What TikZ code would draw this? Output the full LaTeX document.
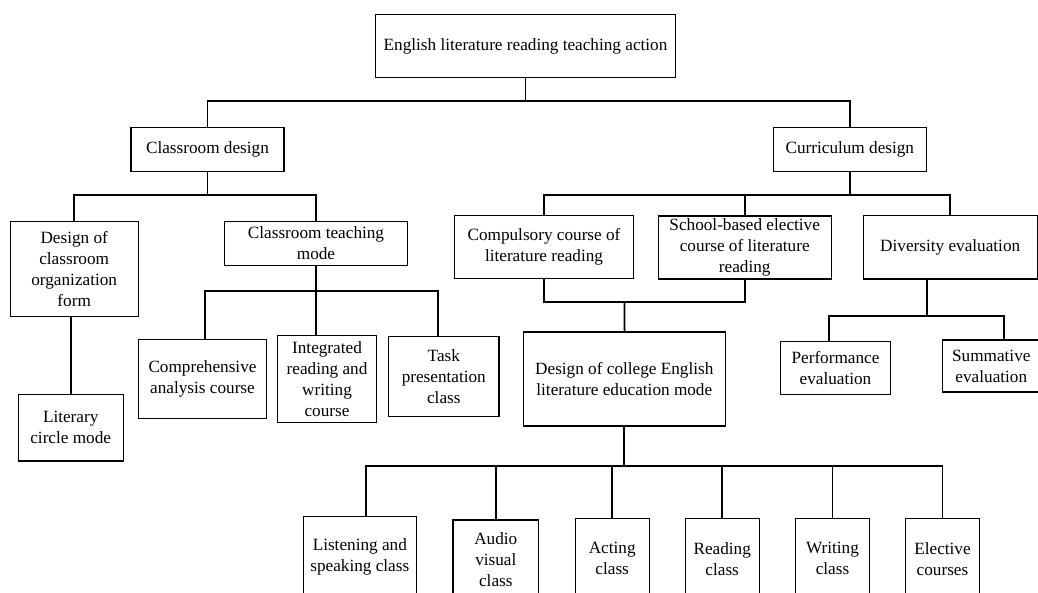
\documentclass[tikz,border=0pt]{standalone}
\usepackage{fontspec}
\setmainfont{Liberation Serif}
\tikzset{box/.style={draw, line width=1.1pt, align=center, inner sep=0pt, font=\fontsize{17.2}{21}\selectfont}}
\tikzset{leaf/.style={box, minimum width=73.7pt, minimum height=80pt}}
\tikzset{link/.style={line width=1.8pt}}

\begin{document}
\begin{tikzpicture}[x=1pt,y=-1pt]
\useasboundingbox (0,0) rectangle (1038,592);

\node[box, minimum width=299.6pt, minimum height=62.6pt] (root) at (525.5,46) {English literature reading teaching action};

\node[box, minimum width=153pt, minimum height=44.4pt] (cls) at (207.5,149.5) {Classroom design};
\node[box, minimum width=153pt, minimum height=44pt] (cur) at (849.8,149.7) {Curriculum design};

\node[box, minimum width=128.3pt, minimum height=95pt] (org) at (74.2,268.8) {Design of\\classroom\\organization\\form};
\node[box, minimum width=183.4pt, minimum height=44.4pt] (mode) at (316,243.5) {Classroom teaching\\mode};
\node[box, minimum width=104.7pt, minimum height=66.3pt] (lit) at (70.7,427.8) {Literary\\circle mode};
\node[box, minimum width=128.4pt, minimum height=78.3pt] (comp) at (202.5,378.9) {Comprehensive\\analysis course};
\node[box, minimum width=99.4pt, minimum height=87pt] (integ) at (327,378.8) {Integrated\\reading and\\writing\\course};
\node[box, minimum width=110.3pt, minimum height=79.6pt] (task) at (443.8,376.5) {Task\\presentation\\class};

\node[box, minimum width=179.4pt, minimum height=62.6pt] (compul) at (544,247) {Compulsory course of\\literature reading};
\node[box, minimum width=173.3pt, minimum height=63pt] (school) at (744.7,247.5) {School-based elective\\course of literature\\reading};
\node[box, minimum width=174.3pt, minimum height=63.3pt] (div) at (950.2,247.3) {Diversity evaluation};
\node[box, minimum width=202pt, minimum height=94pt] (college) at (624.3,379) {Design of college English\\literature education mode};
\node[box, minimum width=110.4pt, minimum height=53.4pt] (perf) at (835.5,368) {Performance\\evaluation};
\node[box, minimum width=97pt, minimum height=52pt] (sum) at (991.3,366) {Summative\\evaluation};

\node[leaf, minimum width=113pt] (listen) at (359.8,556.7) {Listening and\\speaking class};
\node[leaf, minimum width=85.7pt] (audio) at (495.8,560) {Audio\\visual\\class};
\node[leaf] (act) at (612.2,558.7) {Acting\\class};
\node[leaf] (read) at (722.2,558.7) {Reading\\class};
\node[leaf] (write) at (832.5,558.7) {Writing\\class};
\node[leaf] (elect) at (942.5,558.7) {Elective\\courses};

% junctions
\coordinate (b0) at (525.5,100.7);
\coordinate (b1) at (207.5,195);
\coordinate (b2) at (316,291);
\coordinate (b2l) at (205.3,291);
\coordinate (b2r) at (437.7,291);
\coordinate (b3) at (849.8,195);
\coordinate (b4) at (624.5,302.3);
\coordinate (b5) at (624.3,466.3);
\coordinate (b5l) at (366,466.3);
\coordinate (b6) at (927.3,316);
\coordinate (b6l) at (829.3,316);
\coordinate (b6r) at (1003.7,316);

\draw[link] (root) -- (b0) -| (cls);
\draw[link] (b0) -| (cur);

\draw[link] (cls) -- (b1) -| (org);
\draw[link] (b1) -| (mode);
\draw[link] (lit) -- (lit |- org.south);
\draw[link] (mode) -- (b2);
\draw[link] (b2l |- comp.north) |- (b2r) -- (b2r |- task.north);
\draw[link] (b2) -- (b2 |- integ.north);

\draw[link] (cur) -- (b3) -| (compul);
\draw[link] (b3) -| (school);
\draw[link] (b3) -| (div);
\draw[link] (compul) |- (b4) -| (school);
\draw[link] (b4) -- (college);

\draw[link] (college) -- (b5);
\draw[link] (b5l |- listen.north) -- (b5l) -| (elect);
\draw[link] (b5) -| (audio);
\draw[link] (b5) -| (act);
\draw[link] (b5) -| (read);
\draw[link] (b5) -| (write);

\draw[link] (b6 |- div.south) -- (b6);
\draw[link] (b6l |- perf.north) |- (b6r) -- (b6r |- sum.north);

\end{tikzpicture}
\end{document}
